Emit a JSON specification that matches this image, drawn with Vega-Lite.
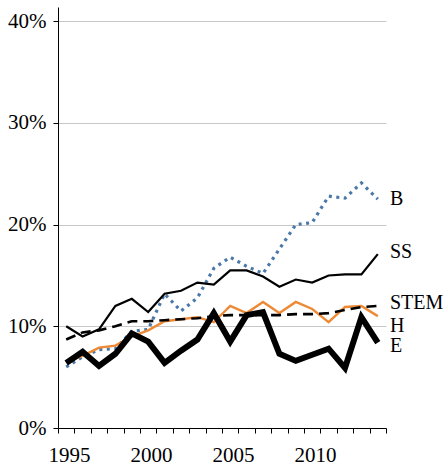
{
  "$schema": "https://vega.github.io/schema/vega-lite/v6.json",
  "width": 328,
  "height": 421,
  "autosize": {"type": "none"},
  "padding": {"left": 58, "top": 7, "right": 62, "bottom": 38},
  "background": "white",
  "config": {
    "view": {"stroke": null},
    "font": "Liberation Serif",
    "text": {"font": "Liberation Serif"},
    "axis": {"labelFont": "Liberation Serif", "labelFontSize": 21, "labelColor": "#000", "domainColor": "#000", "tickColor": "#000"}
  },
  "datasets": {
    "series": [
      {"year": 1995, "series": "B", "value": 0.060}, {"year": 1996, "series": "B", "value": 0.070}, {"year": 1997, "series": "B", "value": 0.077}, {"year": 1998, "series": "B", "value": 0.078}, {"year": 1999, "series": "B", "value": 0.095}, {"year": 2000, "series": "B", "value": 0.097}, {"year": 2001, "series": "B", "value": 0.132}, {"year": 2002, "series": "B", "value": 0.115}, {"year": 2003, "series": "B", "value": 0.128}, {"year": 2004, "series": "B", "value": 0.157}, {"year": 2005, "series": "B", "value": 0.168}, {"year": 2006, "series": "B", "value": 0.159}, {"year": 2007, "series": "B", "value": 0.152}, {"year": 2008, "series": "B", "value": 0.176}, {"year": 2009, "series": "B", "value": 0.200}, {"year": 2010, "series": "B", "value": 0.202}, {"year": 2011, "series": "B", "value": 0.228}, {"year": 2012, "series": "B", "value": 0.226}, {"year": 2013, "series": "B", "value": 0.241}, {"year": 2014, "series": "B", "value": 0.225},
      {"year": 1995, "series": "H", "value": 0.065}, {"year": 1996, "series": "H", "value": 0.071}, {"year": 1997, "series": "H", "value": 0.079}, {"year": 1998, "series": "H", "value": 0.081}, {"year": 1999, "series": "H", "value": 0.090}, {"year": 2000, "series": "H", "value": 0.096}, {"year": 2001, "series": "H", "value": 0.105}, {"year": 2002, "series": "H", "value": 0.107}, {"year": 2003, "series": "H", "value": 0.109}, {"year": 2004, "series": "H", "value": 0.104}, {"year": 2005, "series": "H", "value": 0.120}, {"year": 2006, "series": "H", "value": 0.113}, {"year": 2007, "series": "H", "value": 0.124}, {"year": 2008, "series": "H", "value": 0.113}, {"year": 2009, "series": "H", "value": 0.124}, {"year": 2010, "series": "H", "value": 0.117}, {"year": 2011, "series": "H", "value": 0.104}, {"year": 2012, "series": "H", "value": 0.119}, {"year": 2013, "series": "H", "value": 0.120}, {"year": 2014, "series": "H", "value": 0.110},
      {"year": 1995, "series": "STEM", "value": 0.087}, {"year": 1996, "series": "STEM", "value": 0.094}, {"year": 1997, "series": "STEM", "value": 0.096}, {"year": 1998, "series": "STEM", "value": 0.100}, {"year": 1999, "series": "STEM", "value": 0.105}, {"year": 2000, "series": "STEM", "value": 0.105}, {"year": 2001, "series": "STEM", "value": 0.106}, {"year": 2002, "series": "STEM", "value": 0.107}, {"year": 2003, "series": "STEM", "value": 0.108}, {"year": 2004, "series": "STEM", "value": 0.110}, {"year": 2005, "series": "STEM", "value": 0.111}, {"year": 2006, "series": "STEM", "value": 0.111}, {"year": 2007, "series": "STEM", "value": 0.111}, {"year": 2008, "series": "STEM", "value": 0.111}, {"year": 2009, "series": "STEM", "value": 0.112}, {"year": 2010, "series": "STEM", "value": 0.112}, {"year": 2011, "series": "STEM", "value": 0.113}, {"year": 2012, "series": "STEM", "value": 0.116}, {"year": 2013, "series": "STEM", "value": 0.119}, {"year": 2014, "series": "STEM", "value": 0.120},
      {"year": 1995, "series": "SS", "value": 0.100}, {"year": 1996, "series": "SS", "value": 0.090}, {"year": 1997, "series": "SS", "value": 0.097}, {"year": 1998, "series": "SS", "value": 0.120}, {"year": 1999, "series": "SS", "value": 0.127}, {"year": 2000, "series": "SS", "value": 0.114}, {"year": 2001, "series": "SS", "value": 0.132}, {"year": 2002, "series": "SS", "value": 0.135}, {"year": 2003, "series": "SS", "value": 0.143}, {"year": 2004, "series": "SS", "value": 0.141}, {"year": 2005, "series": "SS", "value": 0.155}, {"year": 2006, "series": "SS", "value": 0.155}, {"year": 2007, "series": "SS", "value": 0.149}, {"year": 2008, "series": "SS", "value": 0.139}, {"year": 2009, "series": "SS", "value": 0.146}, {"year": 2010, "series": "SS", "value": 0.143}, {"year": 2011, "series": "SS", "value": 0.150}, {"year": 2012, "series": "SS", "value": 0.151}, {"year": 2013, "series": "SS", "value": 0.151}, {"year": 2014, "series": "SS", "value": 0.171},
      {"year": 1995, "series": "E", "value": 0.064}, {"year": 1996, "series": "E", "value": 0.075}, {"year": 1997, "series": "E", "value": 0.061}, {"year": 1998, "series": "E", "value": 0.073}, {"year": 1999, "series": "E", "value": 0.093}, {"year": 2000, "series": "E", "value": 0.085}, {"year": 2001, "series": "E", "value": 0.064}, {"year": 2002, "series": "E", "value": 0.076}, {"year": 2003, "series": "E", "value": 0.087}, {"year": 2004, "series": "E", "value": 0.113}, {"year": 2005, "series": "E", "value": 0.085}, {"year": 2006, "series": "E", "value": 0.111}, {"year": 2007, "series": "E", "value": 0.114}, {"year": 2008, "series": "E", "value": 0.073}, {"year": 2009, "series": "E", "value": 0.066}, {"year": 2010, "series": "E", "value": 0.072}, {"year": 2011, "series": "E", "value": 0.078}, {"year": 2012, "series": "E", "value": 0.059}, {"year": 2013, "series": "E", "value": 0.109}, {"year": 2014, "series": "E", "value": 0.084}
    ],
    "labels": [
      {"series": "B", "value": 0.225},
      {"series": "SS", "value": 0.173},
      {"series": "STEM", "value": 0.1225},
      {"series": "H", "value": 0.1005},
      {"series": "E", "value": 0.081}
    ]
  },
  "layer": [
    {
      "data": {"name": "series"},
      "encoding": {
        "x": {
          "field": "year", "type": "quantitative",
          "scale": {"domain": [1994.5, 2014.5], "nice": false, "zero": false},
          "axis": {
            "title": null,
            "grid": false,
            "values": [1994.5, 1995.5, 1996.5, 1997.5, 1998.5, 1999.5, 2000.5, 2001.5, 2002.5, 2003.5, 2004.5, 2005.5, 2006.5, 2007.5, 2008.5, 2009.5, 2010.5, 2011.5, 2012.5, 2013.5, 2014.5],
            "labelExpr": "(datum.value == 1994.5 || datum.value == 1999.5 || datum.value == 2004.5 || datum.value == 2009.5) ? format(datum.value + 0.5, 'd') : ''",
            "labelOffset": 11,
            "labelOverlap": false,
            "labelBound": false,
            "labelFlush": false,
            "labelFont": "Liberation Serif",
            "labelFontSize": 21,
            "tickSize": 5,
            "labelPadding": 11,
            "domainWidth": 1
          }
        },
        "y": {
          "field": "value", "type": "quantitative",
          "scale": {"domain": [0, 0.414], "nice": false},
          "axis": {
            "title": null,
            "values": [0, 0.1, 0.2, 0.3, 0.4],
            "format": ".0%",
            "grid": true,
            "gridColor": "#c8c8c8",
            "gridWidth": 1,
            "labelFont": "Liberation Serif",
            "labelFontSize": 21,
            "tickSize": 5,
            "labelPadding": 7,
            "domainWidth": 1
          }
        }
      },
      "layer": [
        {
          "transform": [{"filter": "datum.series == 'B'"}],
          "mark": {"type": "line", "color": "#4a78a8", "strokeWidth": 3.2, "strokeDash": [3, 4.5], "strokeCap": "butt"}
        },
        {
          "transform": [{"filter": "datum.series == 'H'"}],
          "mark": {"type": "line", "color": "#ee8a36", "strokeWidth": 2.4}
        },
        {
          "transform": [{"filter": "datum.series == 'STEM'"}],
          "mark": {"type": "line", "color": "#000000", "strokeWidth": 2.6, "strokeDash": [10, 6], "strokeCap": "butt"}
        },
        {
          "transform": [{"filter": "datum.series == 'SS'"}],
          "mark": {"type": "line", "color": "#000000", "strokeWidth": 2.2}
        },
        {
          "transform": [{"filter": "datum.series == 'E'"}],
          "mark": {"type": "line", "color": "#000000", "strokeWidth": 6, "strokeJoin": "miter"}
        }
      ]
    },
    {
      "data": {"name": "labels"},
      "mark": {"type": "text", "align": "left", "baseline": "middle", "dx": 4, "fontSize": 20, "font": "Liberation Serif", "color": "#000"},
      "encoding": {
        "x": {
          "datum": 2014.5, "type": "quantitative",
          "axis": {
            "title": null,
            "grid": false,
            "values": [1994.5, 1995.5, 1996.5, 1997.5, 1998.5, 1999.5, 2000.5, 2001.5, 2002.5, 2003.5, 2004.5, 2005.5, 2006.5, 2007.5, 2008.5, 2009.5, 2010.5, 2011.5, 2012.5, 2013.5, 2014.5],
            "labelExpr": "(datum.value == 1994.5 || datum.value == 1999.5 || datum.value == 2004.5 || datum.value == 2009.5) ? format(datum.value + 0.5, 'd') : ''",
            "labelOffset": 11,
            "labelOverlap": false,
            "labelBound": false,
            "labelFlush": false,
            "labelFont": "Liberation Serif",
            "labelFontSize": 21,
            "tickSize": 5,
            "labelPadding": 11,
            "domainWidth": 1
          }
        },
        "y": {
          "field": "value", "type": "quantitative",
          "axis": {
            "title": null,
            "values": [0, 0.1, 0.2, 0.3, 0.4],
            "format": ".0%",
            "grid": true,
            "gridColor": "#c8c8c8",
            "gridWidth": 1,
            "labelFont": "Liberation Serif",
            "labelFontSize": 21,
            "tickSize": 5,
            "labelPadding": 7,
            "domainWidth": 1
          }
        },
        "text": {"field": "series"}
      }
    }
  ]
}
